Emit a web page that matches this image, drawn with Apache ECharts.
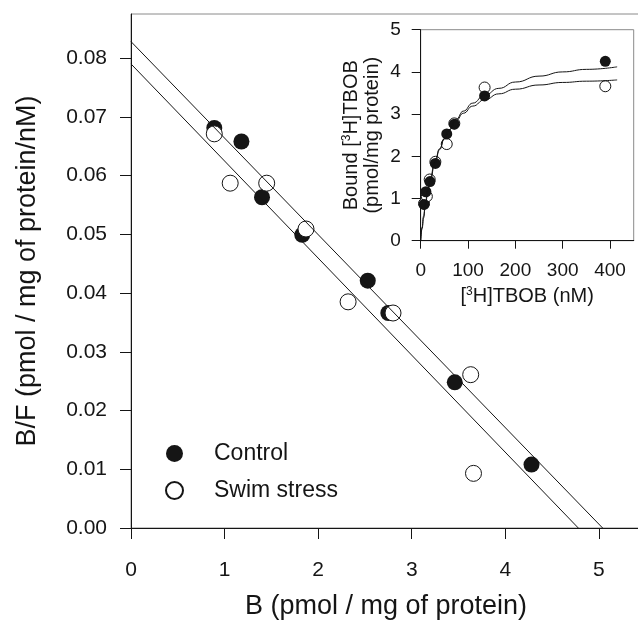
<!DOCTYPE html>
<html>
<head>
<meta charset="utf-8">
<script src="https://cdn.jsdelivr.net/npm/echarts@6/dist/echarts.min.js"></script>
<style>
  html, body { margin: 0; padding: 0; background: #fff; }
  #chart { width: 638px; height: 622px; }
</style>
</head>
<body>
<div id="chart"></div>
<script>
// Scatchard plot (main panel)
const ctlB = [0.89, 1.18, 1.40, 1.83, 2.53, 2.75, 3.46, 4.28];
const ctlBF = [0.0681, 0.0658, 0.0563, 0.0499, 0.0421, 0.0366, 0.0248, 0.0108];
const swimB = [0.89, 1.06, 1.45, 1.87, 2.32, 2.80, 3.63, 3.66];
const swimBF = [0.0671, 0.0587, 0.0587, 0.0509, 0.0385, 0.0366, 0.0261, 0.0093];
// regression lines, read at both ends
const ctlFitB = [0, 5.04];
const ctlFitBF = [0.0828, 0];
const swimFitB = [0, 4.78];
const swimFitBF = [0.0790, 0];

// saturation curve (inset)
const ctlFree = [7, 11, 19.5, 31, 55, 71, 135, 390];
const ctlBound = [0.86, 1.16, 1.40, 1.83, 2.53, 2.76, 3.43, 4.25];
const swimFree = [7, 13, 19, 31, 55, 71, 135, 390];
const swimBound = [0.88, 1.05, 1.45, 1.87, 2.29, 2.78, 3.63, 3.66];
const curveFree = [0, 3, 6, 10, 15, 20, 30, 40, 50, 60, 75, 90, 110, 135, 165, 200, 250, 300, 350, 415];
const curveCtl = [0, 0.29, 0.54, 0.84, 1.15, 1.42, 1.84, 2.16, 2.42, 2.63, 2.88, 3.07, 3.26, 3.45, 3.61, 3.76, 3.90, 4.00, 4.06, 4.12];
const curveSwim = [0, 0.32, 0.58, 0.90, 1.22, 1.48, 1.88, 2.18, 2.42, 2.62, 2.85, 3.02, 3.19, 3.34, 3.48, 3.59, 3.69, 3.75, 3.78, 3.81];

// tick labels
const mainXTicks = [0, 1, 2, 3, 4, 5];
const mainYTicks = [0, 0.01, 0.02, 0.03, 0.04, 0.05, 0.06, 0.07, 0.08];
const insetXTicks = [0, 100, 200, 300, 400];
const insetYTicks = [0, 1, 2, 3, 4, 5];

const zip = (a, b) => a.map((v, i) => [v, b[i]]);
const ink = '#151515';
const font = 'Liberation Sans, Arial, sans-serif';

let myChart = echarts.init(document.getElementById('chart'), null, { renderer: 'canvas' });

function axisBase(ticks, tickLen, margin, size) {
  return {
    type: 'value',
    splitLine: { show: false },
    axisLine: { show: true, onZero: false, lineStyle: { color: ink, width: 1 } },
    axisTick: { show: true, inside: false, length: tickLen, customValues: ticks, lineStyle: { color: ink, width: 1 } },
    axisLabel: { customValues: ticks, margin: margin, fontSize: size, color: ink, fontFamily: font }
  };
}

const mainX = axisBase(mainXTicks, 11, 32, 21);
Object.assign(mainX, {
  gridIndex: 0, min: 0, max: 5.45, interval: 1,
  name: 'B (pmol / mg of protein)', nameLocation: 'middle', nameGap: 65,
  nameTextStyle: { fontSize: 27, color: ink, fontFamily: font }
});
const mainY = axisBase(mainYTicks, 11, 24, 21);
mainY.axisLabel.formatter = v => v.toFixed(2);
Object.assign(mainY, {
  gridIndex: 0, min: 0, max: 0.0875, interval: 0.01,
  name: 'B/F (pmol / mg of protein/nM)', nameLocation: 'middle', nameGap: 90,
  nameTextStyle: { fontSize: 27, color: ink, fontFamily: font }
});

const insetX = axisBase(insetXTicks, 8, 21, 19);
Object.assign(insetX, {
  gridIndex: 1, min: 0, max: 450, interval: 100,
  name: '{t|[}{s|3}{t|H]TBOB (nM)}', nameLocation: 'middle', nameGap: 45,
  nameTextStyle: {
    rich: {
      t: { fontSize: 20, color: ink, fontFamily: font, lineHeight: 22 },
      s: { fontSize: 12, color: ink, fontFamily: font, lineHeight: 22, verticalAlign: 'top' }
    }
  }
});
const insetY = axisBase(insetYTicks, 9, 20, 19);
Object.assign(insetY, {
  gridIndex: 1, min: 0, max: 5, interval: 1,
  name: '{t|Bound [}{s|3}{t|H]TBOB}\n{t|(pmol/mg protein)}', nameLocation: 'middle', nameGap: 38,
  nameTextStyle: {
    rich: {
      t: { fontSize: 20, color: ink, fontFamily: font, lineHeight: 21 },
      s: { fontSize: 12, color: ink, fontFamily: font, lineHeight: 21, verticalAlign: 'top' }
    }
  }
});

const openStyle = { color: '#fff', borderColor: ink, borderWidth: 1, opacity: 1 };
const fillStyle = { color: ink, opacity: 1 };
const fitLine = { color: ink, width: 1 };

myChart.setOption({
  animation: false,
  backgroundColor: '#fff',
  textStyle: { fontFamily: font },
  grid: [
    { left: 131, top: 14, width: 510, height: 514, show: true, borderColor: '#8a8a8a', borderWidth: 1, outerBoundsMode: 'none' },
    { left: 420.7, top: 29.7, width: 213, height: 211, show: true, borderColor: '#8a8a8a', borderWidth: 1, outerBoundsMode: 'none' }
  ],
  legend: {
    data: ['Control', 'Swim stress'],
    orient: 'vertical',
    left: 165, top: 442,
    padding: 0,
    itemWidth: 17, itemHeight: 17, itemGap: 14,
    selectedMode: false,
    textStyle: { fontSize: 23, lineHeight: 23, color: ink, fontFamily: font, padding: [0, 0, 0, 26] }
  },
  xAxis: [mainX, insetX],
  yAxis: [mainY, insetY],
  series: [
    { name: 'Control', type: 'scatter', xAxisIndex: 0, yAxisIndex: 0, symbol: 'circle', symbolSize: 16,
      itemStyle: fillStyle, data: zip(ctlB, ctlBF), z: 2 },
    { name: 'Swim stress', type: 'scatter', xAxisIndex: 0, yAxisIndex: 0, symbol: 'circle', symbolSize: 16,
      itemStyle: openStyle, data: zip(swimB, swimBF), z: 3 },
    { name: 'Control fit', type: 'line', xAxisIndex: 0, yAxisIndex: 0, showSymbol: false,
      lineStyle: fitLine, data: zip(ctlFitB, ctlFitBF), z: 4, silent: true },
    { name: 'Swim stress fit', type: 'line', xAxisIndex: 0, yAxisIndex: 0, showSymbol: false,
      lineStyle: fitLine, data: zip(swimFitB, swimFitBF), z: 4, silent: true },

    { name: 'Swim stress inset', type: 'scatter', xAxisIndex: 1, yAxisIndex: 1, symbol: 'circle', symbolSize: 11,
      itemStyle: openStyle, data: zip(swimFree, swimBound), z: 2 },
    { name: 'Control inset', type: 'scatter', xAxisIndex: 1, yAxisIndex: 1, symbol: 'circle', symbolSize: 11,
      itemStyle: fillStyle, data: zip(ctlFree, ctlBound), z: 3 },
    { name: 'Control curve', type: 'line', xAxisIndex: 1, yAxisIndex: 1, showSymbol: false, smooth: true,
      smoothMonotone: 'x', lineStyle: fitLine, data: zip(curveFree, curveCtl), z: 4, silent: true },
    { name: 'Swim stress curve', type: 'line', xAxisIndex: 1, yAxisIndex: 1, showSymbol: false, smooth: true,
      smoothMonotone: 'x', lineStyle: fitLine, data: zip(curveFree, curveSwim), z: 4, silent: true }
  ]
});
</script>
</body>
</html>
